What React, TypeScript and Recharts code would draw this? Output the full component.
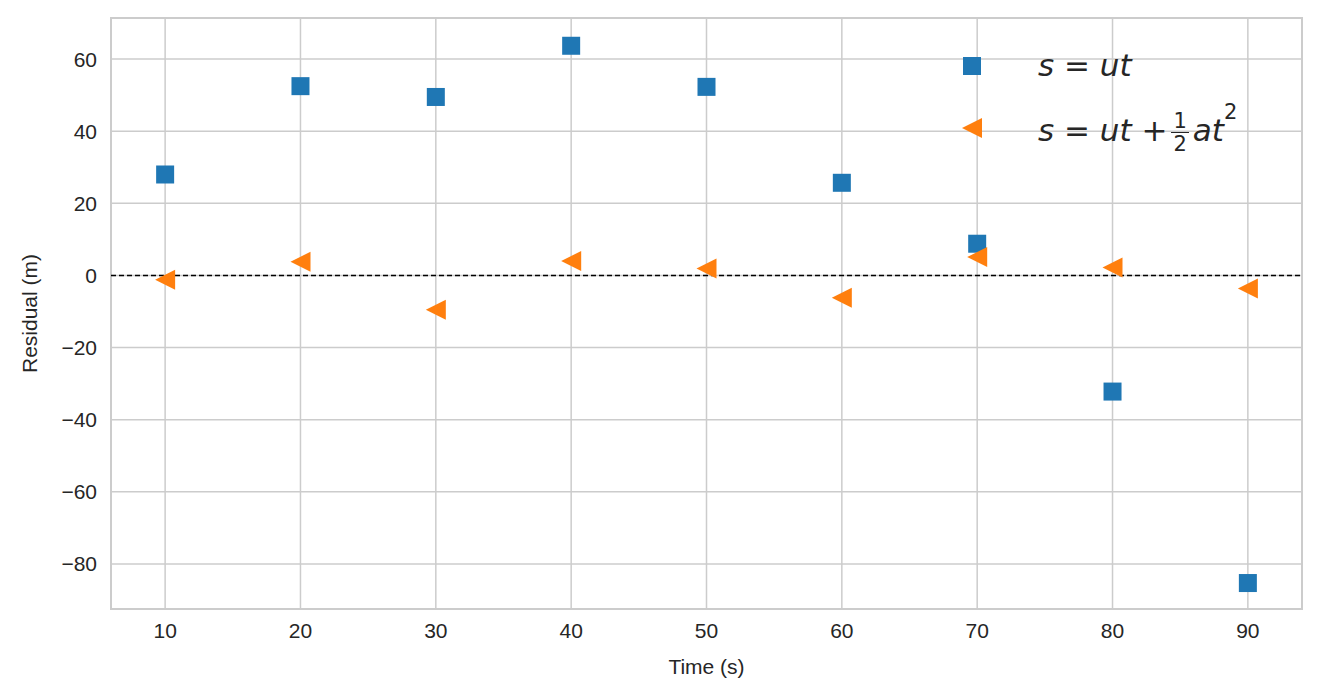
import { ScatterChart, Scatter, XAxis, YAxis, CartesianGrid, ReferenceLine, ReferenceArea } from 'recharts'

const times = [10, 20, 30, 40, 50, 60, 70, 80, 90]
const linearResiduals = [28, 52.5, 49.5, 63.7, 52.3, 25.7, 8.8, -32.2, -85.3]
const quadResiduals = [-1.2, 3.8, -9.5, 4.0, 1.9, -6.2, 5.1, 2.2, -3.6]
const xTicks = [10, 20, 30, 40, 50, 60, 70, 80, 90]
const yTicks = [-80, -60, -40, -20, 0, 20, 40, 60]

const linearData = times.map((t, i) => ({ t, r: linearResiduals[i] }))
const quadData = times.map((t, i) => ({ t, r: quadResiduals[i] }))

const BLUE = '#1f77b4'
const ORANGE = '#ff7f0e'
const TXT = '#262626'

const Square = (p: any) => <rect x={p.cx - 9} y={p.cy - 9} width={18} height={18} fill={BLUE} />
const Tri = (p: any) => (
  <polygon points={`${p.cx - 10},${p.cy} ${p.cx + 10},${p.cy - 10} ${p.cx + 10},${p.cy + 10}`} fill={ORANGE} />
)

const fmt = (v: number) => (v < 0 ? `\u2212${Math.abs(v)}` : `${v}`)

export default function App() {
  const math = { fontFamily: 'DejaVu Sans', fontStyle: 'italic', fontSize: 31, color: TXT }
  return (
    <div style={{ position: 'fixed', left: 0, top: 0, width: 1320, height: 700, background: '#fff', fontFamily: 'Liberation Sans' }}>
      <ScatterChart width={1320} height={700} margin={{ top: 18, right: 18, left: 0, bottom: 0 }}>
        <CartesianGrid stroke="#cccccc" strokeWidth={1.5} />
        <ReferenceArea x1={6} x2={94} y1={-92.5} y2={71.4} fill="none" stroke="#cccccc" strokeWidth={2} />
        <XAxis type="number" dataKey="t" domain={[6, 94]} ticks={xTicks} height={91} tickLine={false} axisLine={false}
          tick={{ fill: TXT, fontSize: 21 }} tickMargin={8}
          label={{ value: 'Time (s)', position: 'insideBottom', offset: 26, fill: TXT, fontSize: 21 }} />
        <YAxis type="number" dataKey="r" domain={[-92.5, 71.4]} ticks={yTicks} width={111} tickLine={false} axisLine={false}
          tick={{ fill: TXT, fontSize: 21 }} tickFormatter={fmt} tickMargin={8}
          label={{ value: 'Residual (m)', angle: -90, position: 'insideLeft', offset: 30, fill: TXT, fontSize: 21, style: { textAnchor: 'middle' } }} />
        <ReferenceLine y={0} stroke="#000" strokeDasharray="5 3" strokeWidth={1.5} />
        <Scatter data={linearData} shape={Square} isAnimationActive={false} />
        <Scatter data={quadData} shape={Tri} isAnimationActive={false} />
      </ScatterChart>
      <div style={{ position: 'absolute', left: 963, top: 57, width: 18, height: 18, background: BLUE }} />
      <div style={{ position: 'absolute', left: 1038, top: 47, ...math }}>s = ut</div>
      <svg style={{ position: 'absolute', left: 960, top: 116 }} width={24} height={24}>
        <polygon points="2,12 22,2 22,22" fill={ORANGE} />
      </svg>
      <div style={{ position: 'absolute', left: 1038, top: 104, display: 'flex', alignItems: 'center', ...math }}>
        <span>s = ut + </span>
        <span style={{ display: 'inline-flex', flexDirection: 'column', alignItems: 'center', fontStyle: 'normal', fontSize: 21, lineHeight: '22px', margin: '6px 4px 0 4px' }}>
          <span style={{ borderBottom: '1.5px solid #262626', padding: '0 2px' }}>1</span>
          <span>2</span>
        </span>
        <span>at</span>
        <span style={{ fontSize: 21, fontStyle: 'normal', alignSelf: 'flex-start', marginTop: -4 }}>2</span>
      </div>
    </div>
  )
}
